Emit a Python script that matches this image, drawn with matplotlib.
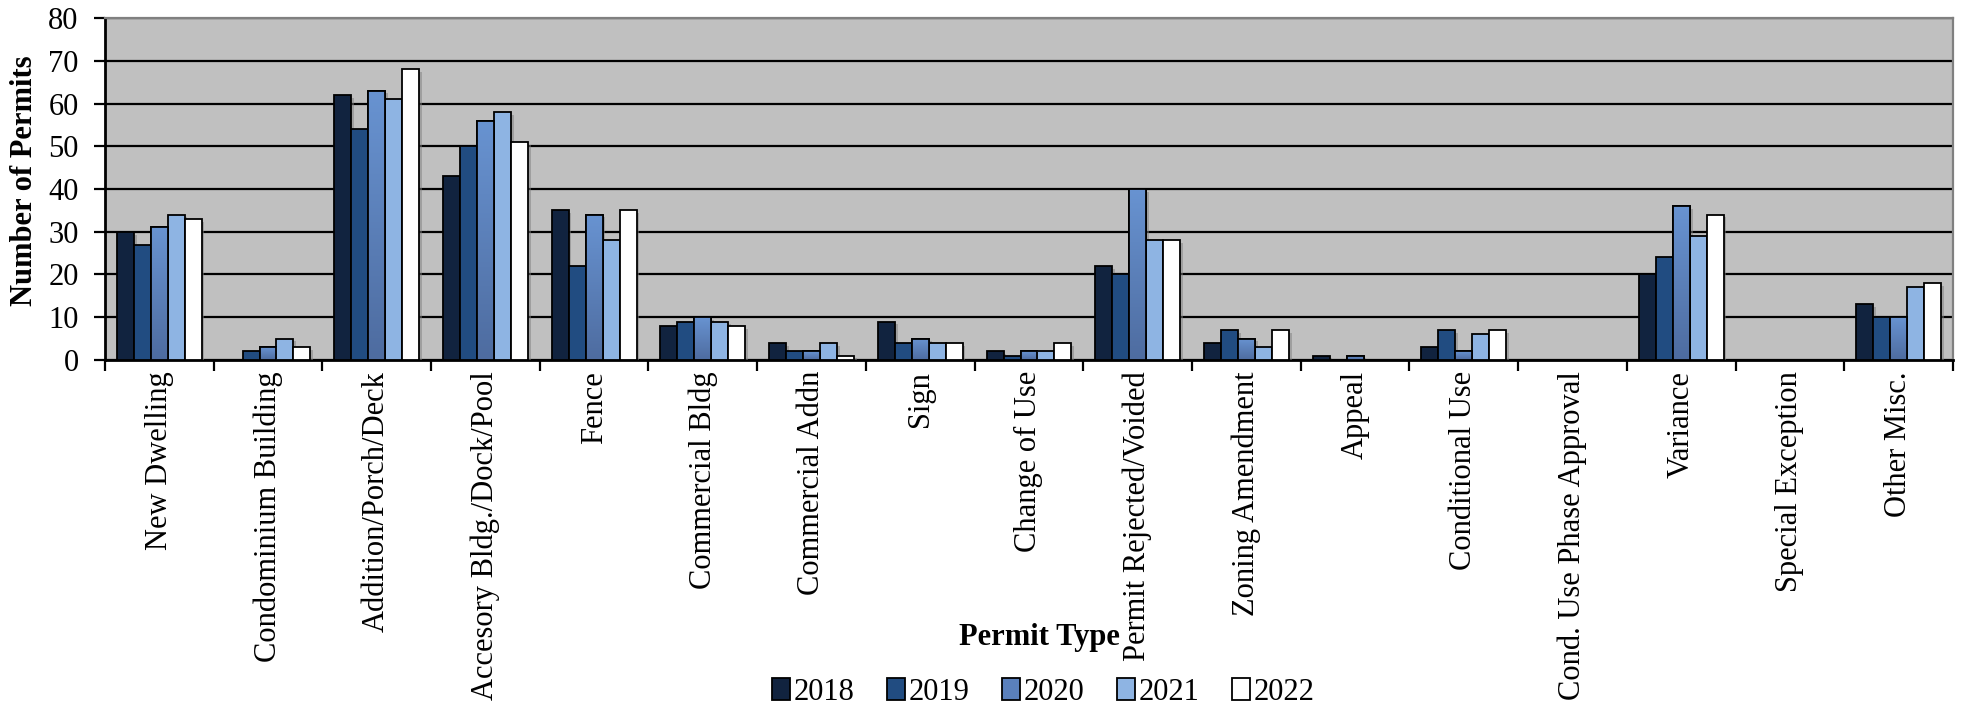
import numpy as np
import matplotlib
matplotlib.use('Agg')
import matplotlib.pyplot as plt
import matplotlib.patheffects as pe
from matplotlib.patches import Patch

plt.rcParams['font.family'] = ['Liberation Serif', 'DejaVu Serif']

categories = ['New Dwelling', 'Condominium Building', 'Addition/Porch/Deck',
              'Accesory Bldg./Dock/Pool', 'Fence', 'Commercial Bldg',
              'Commercial Addn', 'Sign', 'Change of Use',
              'Permit Rejected/Voided', 'Zoning Amendment', 'Appeal',
              'Conditional Use', 'Cond. Use Phase Approval', 'Variance',
              'Special Exception', 'Other Misc.']

years = ['2018', '2019', '2020', '2021', '2022']

permits_2018 = [30, 0, 62, 43, 35, 8, 4, 9, 2, 22, 4, 1, 3, 0, 20, 0, 13]
permits_2019 = [27, 2, 54, 50, 22, 9, 2, 4, 1, 20, 7, 0, 7, 0, 24, 0, 10]
permits_2020 = [31, 3, 63, 56, 34, 10, 2, 5, 2, 40, 5, 1, 2, 0, 36, 0, 10]
permits_2021 = [34, 5, 61, 58, 28, 9, 4, 4, 2, 28, 3, 0, 6, 0, 29, 0, 17]
permits_2022 = [33, 3, 68, 51, 35, 8, 1, 4, 4, 28, 7, 0, 7, 0, 34, 0, 18]

series = [permits_2018, permits_2019, permits_2020, permits_2021, permits_2022]
colors = ['#11233F', '#214C81', '#5A80BC', '#8EB4E3', '#FFFFFF']

fig = plt.figure(figsize=(19.72, 7.12), dpi=100)
ax = fig.add_axes([0.0532, 0.4944, 0.9372, 0.4803])
ax.set_facecolor('#C0C0C0')

x = np.arange(len(categories))
width = 0.156
shadow = [pe.SimplePatchShadow(offset=(2, -2), shadow_rgbFace='#808080', alpha=0.5), pe.Normal()]

for i, (vals, col) in enumerate(zip(series, colors)):
    bars = ax.bar(x + (i - 2) * width, vals, width, color=col, edgecolor='black',
                  linewidth=1.3, zorder=3, label=years[i])
    for b in bars:
        b.set_path_effects(shadow)
    if i == 2:
        # vertical gradient fill for the 2020 bars
        grad = np.linspace(0, 1, 100).reshape(-1, 1)
        cmap = matplotlib.colors.LinearSegmentedColormap.from_list('g', ['#4E6CA0', '#6893D1'])
        for b in bars:
            h = b.get_height()
            if h <= 0:
                continue
            x0 = b.get_x()
            im = ax.imshow(grad, cmap=cmap, origin='lower', aspect='auto',
                           extent=[x0, x0 + width, 0, h], zorder=3.5)
            im.set_clip_path(b)
            ax.bar(x0 + width / 2, h, width, facecolor='none', edgecolor='black',
                   linewidth=1.3, zorder=3.6)

ax.set_xlim(-0.5, len(categories) - 0.5)
ax.set_ylim(0, 80)
ax.set_yticks(range(0, 81, 10))
ax.yaxis.grid(True, color='black', linewidth=1.6, zorder=1)
ax.set_axisbelow(True)

ax.set_xticks(x)
ax.set_xticklabels(categories, rotation=90, fontsize=22, va='top', ha='center')
ax.set_xticks(np.arange(-0.5, len(categories)), minor=True)
ax.tick_params(axis='x', which='major', length=0, pad=8)
ax.tick_params(axis='x', which='minor', length=8, width=1.6, direction='out')
ax.tick_params(axis='y', labelsize=22, length=8, width=1.6, pad=11)

for side in ['top', 'right']:
    ax.spines[side].set_color('#808080')
    ax.spines[side].set_linewidth(1.6)
for side in ['left', 'bottom']:
    ax.spines[side].set_color('black')
    ax.spines[side].set_linewidth(2)

fig.text(0.0125, 0.746, 'Number of Permits', rotation=90, fontsize=22,
         fontweight='bold', ha='center', va='center')
fig.text(0.527, 0.104, 'Permit Type', fontsize=22, fontweight='bold',
         ha='center', va='center')

handles = [Patch(facecolor=c, edgecolor='black', linewidth=1.3) for c in colors]
fig.legend(handles, years, loc='center', bbox_to_anchor=(0.529, 0.028), ncol=5,
           frameon=False, fontsize=22, handlelength=0.6, handleheight=0.7,
           handletextpad=0.12, columnspacing=1.05)

fig.savefig('out.png', dpi=100)
